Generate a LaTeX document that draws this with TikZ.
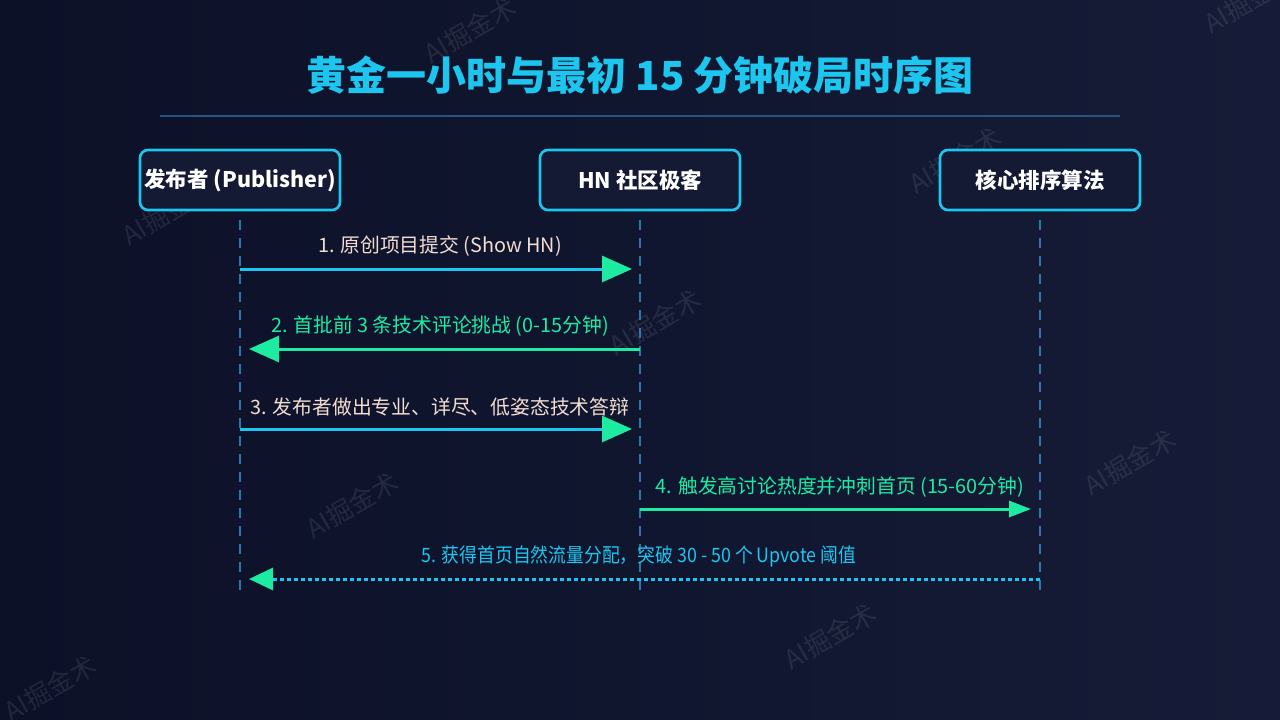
\documentclass[tikz,border=0pt]{standalone}
\usepackage{fontspec}
\setmainfont{Noto Sans CJK SC}
\usetikzlibrary{arrows.meta,shapes.misc}
\definecolor{bgL}{HTML}{0C1128}
\definecolor{bgR}{HTML}{161B37}
\definecolor{cyanc}{HTML}{1CC6EE}
\definecolor{greenc}{HTML}{1DEBA2}
\definecolor{boxfill}{HTML}{141A33}
\definecolor{lifec}{HTML}{2A78AC}
\definecolor{peach}{HTML}{F2DDD2}
\definecolor{rulec}{HTML}{25557C}
\tikzset{
  x=1pt,y=-1pt,
  actor/.style={draw=cyanc,line width=2.6pt,fill=boxfill,rounded corners=8pt,minimum width=200pt,minimum height=60pt,inner sep=0pt,text=white,font=\bfseries\fontsize{21.5}{24}\selectfont},
  lifeline/.style={draw=lifec,line width=2pt,dash pattern=on 10pt off 8pt},
  msgcyan/.style={draw=cyanc,line width=3pt,-{Triangle[length=30pt,width=26pt,color=greenc]}},
  msggreen/.style={draw=greenc,line width=3pt,-{Triangle[length=30pt,width=26pt,color=greenc]}},
  msgsmall/.style={draw=greenc,line width=3pt,-{Triangle[length=22pt,width=16pt,color=greenc]}},
  msgdot/.style={draw=cyanc,line width=3pt,dash pattern=on 4pt off 3pt,-{Triangle[length=24pt,width=22pt,color=greenc,sep=0pt]}},
  lbl/.style={font=\fontsize{19.8}{23}\selectfont,inner sep=0pt},
  wm/.style={text=white,opacity=0.09,rotate=30,font=\fontsize{26}{30}\selectfont}
}
\begin{document}
\begin{tikzpicture}
\useasboundingbox (0,0) rectangle (1280,720);
\shade[left color=bgL,right color=bgR] (0,0) rectangle (1280,720);
% watermarks
\foreach \px/\py in {470/30,1250/0,955/160,168/212,655/322,352/505,1130/462,830/636,50/688}
  \node[wm] (w\px) at (\px,\py) {AI掘金术};
% title
\node[text=cyanc,font=\bfseries\fontsize{40}{44}\selectfont] (title) at (640,75) {黄金一小时与最初 15 分钟破局时序图};
\coordinate (rl) at (160,116);
\coordinate (rr) at (1120,116);
\draw[rulec,line width=1.5pt] (rl) -- (rr);
% actors
\node[actor] (pub) at (240,180) {发布者 (Publisher)};
\node[actor] (hn) at (640,180) {HN 社区极客};
\node[actor] (alg) at (1040,180) {核心排序算法};
% lifeline ends
\coordinate (pubB) at (240,590);
\coordinate (hnB) at (640,590);
\coordinate (algB) at (1040,590);
\draw[lifeline] (240,220) -- (pubB);
\draw[lifeline] (640,220) -- (hnB);
\draw[lifeline] (1040,220) -- (algB);
% message points
\coordinate (p1) at (240,269); \coordinate (h1) at (632,269);
\coordinate (h2) at (640,349); \coordinate (p2) at (249,349);
\coordinate (p3) at (240,429); \coordinate (h3) at (632,429);
\coordinate (h4) at (640,509); \coordinate (a4) at (1031,509);
\coordinate (a5) at (1040,579); \coordinate (p5) at (249,579);
\draw[msgcyan] (p1) -- (h1);
\draw[msggreen] (h2) -- (p2);
\draw[msgcyan] (p3) -- (h3);
\draw[msgsmall] (h4) -- (a4);
\draw[msgdot] (a5) -- (p5);
% labels
\node[lbl,text=peach] (l1) at (440,246) {1. 原创项目提交 (Show HN)};
\node[lbl,text=greenc] (l2) at (440,326) {2. 首批前 3 条技术评论挑战 (0-15分钟)};
\node[lbl,text=peach] (l3) at (440,407) {3. 发布者做出专业、详尽、低姿态技术答辩};
\node[lbl,text=greenc] (l4) at (840,487) {4. 触发高讨论热度并冲刺首页 (15-60分钟)};
\node[lbl,text=cyanc] (l5) at (639,556) {\scalebox{0.9}[1]{5. 获得首页自然流量分配，突破 30 - 50 个 Upvote 阈值}};
\end{tikzpicture}
\end{document}
